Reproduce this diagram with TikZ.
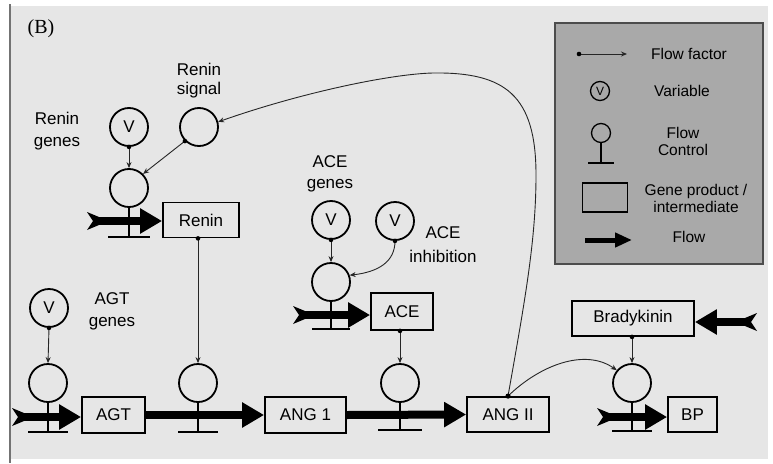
\documentclass[tikz,border=0pt]{standalone}
\usepackage{fontspec}
\setmainfont{Liberation Sans}
\newfontfamily\serifB{Liberation Serif}
\usetikzlibrary{arrows.meta}
\definecolor{panel}{HTML}{E6E6E6}
\definecolor{legfill}{HTML}{A9A9A9}
\begin{document}
\begin{tikzpicture}[x=1pt,y=-1pt,
  font=\fontsize{17}{22}\selectfont,
  ctrl/.style={circle, draw, line width=1.8pt, minimum size=38pt, inner sep=0pt},
  var/.style={ctrl, font=\fontsize{17}{17}\selectfont},
  box/.style={draw, line width=1.8pt, inner sep=0pt, align=center},
  flow/.style={line width=8pt, arrows={-Triangle[length=22pt,width=24pt]}},
  conn/.style={line width=0.9pt, draw=black!85, arrows={-Stealth[length=6pt,width=5pt]}},
  dotc/.style={fill=black},
  stem/.style={line width=2pt},
  lbl/.style={align=center, inner sep=0pt},
  leg/.style={align=center, inner sep=0pt, font=\fontsize{15.5}{17}\selectfont},
  tail/.pic={\fill (-12,-9) -- (0,-4) -- (0,4) -- (-12,9) -- (-6,0) -- cycle;}
]
\useasboundingbox (0,0) rectangle (773,463);
\fill[white] (0,0) rectangle (773,463);
\fill[panel] (10,6) rectangle (768,459);
\draw[line width=2pt, black!55] (10,4) -- (10,463);
\node[lbl, font=\serifB\fontsize{20}{20}\selectfont] (lab) at (41,29) {(B)};

% legend
\draw[line width=1.8pt, draw=black!70, fill=legfill] (555,23) rectangle (763,264);
\coordinate (lf1) at (579,54);
\coordinate (lf2) at (627,54);
\draw[conn] (lf1) -- (lf2);
\fill[dotc] (lf1) circle (2.3);
\node[leg] (lt1) at (689,54) {Flow factor};
\node[ctrl, line width=1.3pt, minimum size=19pt, font=\fontsize{12}{12}\selectfont] (lv) at (600,91) {V};
\node[leg] (lt2) at (682,91) {Variable};
\node[ctrl, line width=1.3pt, minimum size=19pt] (lc) at (601,133) {};
\draw[stem, line width=1.5pt] (lc.south) -- ++(0,20) ++(-13,0) -- ++(26,0);
\node[leg] (lt3) at (683,141) {Flow\\Control};
\node[box, line width=1.5pt, minimum width=45pt, minimum height=29pt] (lr) at (605,197.5) {};
\node[leg] (lt4) at (696,198) {Gene product /\\intermediate};
\coordinate (la1) at (585,240);
\coordinate (la2) at (632,240);
\draw[line width=5pt, arrows={-Triangle[length=17pt,width=14pt]}] (la1) -- (la2);
\node[leg] (lt5) at (689,237) {Flow};

% nodes
\node[var] (rg) at (129,127) {V};
\node[ctrl] (sig) at (199,127) {};
\node[ctrl] (rc) at (129,188) {};
\node[box, minimum width=76pt, minimum height=35pt] (renin) at (201,220) {Renin};

\node[var] (ag) at (49,308) {V};
\node[ctrl] (agc) at (48,383) {};
\node[box, minimum width=63pt, minimum height=36pt] (agt) at (113.5,415) {AGT};
\node[ctrl] (c2) at (198,383) {};
\node[box, minimum width=81pt, minimum height=36pt] (ang1) at (305.5,415) {ANG 1};
\node[ctrl] (c3) at (400,383) {};
\node[box, minimum width=82pt, minimum height=35pt] (ang2) at (508,414.5) {ANG II};

\node[var] (aceg) at (331,220) {V};
\node[var] (acei) at (395,221) {V};
\node[ctrl] (acec) at (331,282) {};
\node[box, minimum width=62pt, minimum height=37pt] (ace) at (402,311.5) {ACE};

\node[box, minimum width=122pt, minimum height=35pt] (brady) at (633,318.5) {Bradykinin};
\node[ctrl] (bpc) at (632,383) {};
\node[box, minimum width=49pt, minimum height=35pt] (bp) at (692.5,414.5) {BP};

% labels
\node[lbl] (l1) at (57,131) {Renin\\genes};
\node[lbl, font=\fontsize{17}{19}\selectfont] (l2) at (199,81) {Renin\\signal};
\node[lbl] (l3) at (112,311) {AGT\\genes};
\node[lbl, font=\fontsize{17}{21}\selectfont] (l4) at (330,174) {ACE\\genes};
\node[lbl, font=\fontsize{17}{24}\selectfont] (l5) at (443,245) {ACE\\inhibition};

% stems and bars
\draw[stem] (rc.south) -- ++(0,29) ++(-21,0) -- ++(42,0);
\draw[stem] (agc.south) -- ++(0,29) ++(-20,0) -- ++(40,0);
\draw[stem] (c2.south) -- ++(0,29) ++(-20,0) -- ++(40,0);
\draw[stem] (c3.south) -- ++(0,27) ++(-22,0) -- ++(44,0);
\draw[stem] (acec.south) -- ++(0,27) ++(-19,0) -- ++(38,0);
\draw[stem] (bpc.south) -- ++(0,28) ++(-20,0) -- ++(40,0);

% flows
\coordinate (t1) at (99,221);
\coordinate (t2) at (24,417);
\coordinate (t3) at (305,315);
\coordinate (t4) at (609,417);
\coordinate (t5) at (745,322);
\draw[flow] (t1) -- (t1 -| renin.west);
\pic at (t1) {tail};
\draw[flow] (t2) -- (t2 -| agt.west);
\pic at (t2) {tail};
\draw[flow] (agt.east) -- (ang1.west);
\draw[flow] (ang1.east) -- (ang2.west);
\draw[flow] (t3) -- (t3 -| ace.west);
\pic at (t3) {tail};
\draw[flow] (t4) -- (t4 -| bp.west);
\pic at (t4) {tail};
\draw[flow] (t5) -- (t5 -| brady.east);
\pic[xscale=-1] at (t5) {tail};

% connectors
\draw[conn] (rg.south) -- (rc.north);
\fill[dotc] (rg.south) circle (2.3);
\draw[conn] (sig.225) -- (rc.45);
\fill[dotc] (sig.225) circle (2.3);
\draw[conn] (renin.south -| c2.north) -- (c2.north);
\fill[dotc] (renin.south -| c2.north) circle (2.3);
\draw[conn] (ag.south) -- (agc.north);
\fill[dotc] (ag.south) circle (2.3);
\draw[conn] (aceg.south) -- (acec.north);
\fill[dotc] (aceg.south) circle (2.3);
\draw[conn] (acei.south) .. controls (395,262) and (378,272) .. (acec.20);
\fill[dotc] (acei.south) circle (2.3);
\draw[conn] (ace.south -| c3.north) -- (c3.north);
\fill[dotc] (ace.south -| c3.north) circle (2.3);
\draw[conn] (brady.south -| bpc.north) -- (bpc.north);
\fill[dotc] (brady.south -| bpc.north) circle (2.3);
\draw[conn] (ang2.north) .. controls (540,365) and (585,348) .. (bpc.140);
\draw[conn] (ang2.north) .. controls (525,300) and (536,240) .. (536,175)
   .. controls (536,95) and (505,72) .. (433,73)
   .. controls (390,74) and (300,93) .. (sig.15);
\fill[dotc] (ang2.north) circle (2.6);
\end{tikzpicture}
\end{document}
